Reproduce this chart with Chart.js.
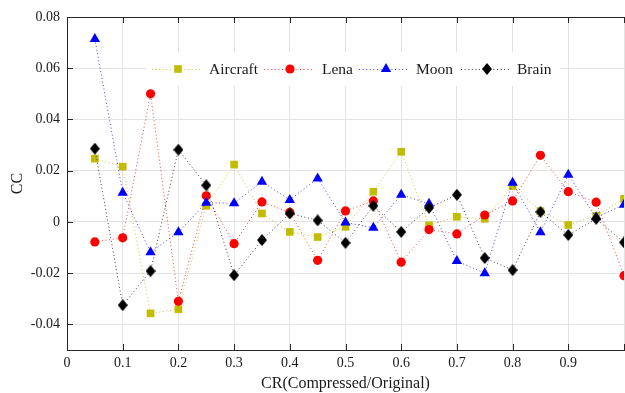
<!DOCTYPE html>
<html>
<head>
<meta charset="utf-8">
<script src="https://cdn.jsdelivr.net/npm/chart.js@4/dist/chart.umd.min.js"></script>
<style>
html,body{margin:0;padding:0;background:#fff;overflow:hidden;width:625px;height:393px;}
#wrap{width:630px;height:393px;}
</style>
</head>
<body>
<div id="wrap"><canvas id="c" width="630" height="393"></canvas></div>
<script>
// ---- data ----
const crValues = [0.05,0.1,0.15,0.2,0.25,0.3,0.35,0.4,0.45,0.5,0.55,0.6,0.65,0.7,0.75,0.8,0.85,0.9,0.95,1.0];
const aircraft = [0.0247,0.0216,-0.0357,-0.0341,0.0063,0.0224,0.0033,-0.0039,-0.0059,-0.0019,0.0118,0.0274,-0.0013,0.0020,0.0012,0.0140,0.0042,-0.0012,0.0024,0.0090];
const lena     = [-0.0078,-0.0062,0.0500,-0.0310,0.0102,-0.0085,0.0078,0.0037,-0.0150,0.0043,0.0082,-0.0157,-0.0030,-0.0047,0.0027,0.0082,0.0260,0.0118,0.0077,-0.0210];
const moon     = [0.0714,0.0114,-0.0118,-0.0040,0.0075,0.0073,0.0157,0.0086,0.0170,-0.0002,-0.0023,0.0106,0.0071,-0.0153,-0.0200,0.0153,-0.0040,0.0184,0.0018,0.0067];
const brain    = [0.0286,-0.0325,-0.0192,0.0282,0.0143,-0.0208,-0.0071,0.0033,0.0006,-0.0082,0.0063,-0.0039,0.0055,0.0106,-0.0141,-0.0188,0.0039,-0.0051,0.0012,-0.0080];
const seriesNames = ['Aircraft','Lena','Moon','Brain'];
const xTickValues = [0,0.1,0.2,0.3,0.4,0.5,0.6,0.7,0.8,0.9,1.0];
const xTickLabels = ['0','0.1','0.2','0.3','0.4','0.5','0.6','0.7','0.8','0.9',''];
const yTickValues = [-0.04,-0.02,0,0.02,0.04,0.06,0.08];
const yTickLabels = ['-0.04','-0.02','0','0.02','0.04','0.06','0.08'];

const FONT = "'Liberation Serif', 'Times New Roman', serif";
const AXIS = '#262626';
const DASH = [1,2.6];

// diamond marker image
function makeDiamond(w,h,color){
  const cv=document.createElement('canvas'); cv.width=w; cv.height=h;
  const g=cv.getContext('2d'); g.fillStyle=color; g.beginPath();
  g.moveTo(w/2,0); g.lineTo(w,h/2); g.lineTo(w/2,h); g.lineTo(0,h/2); g.closePath(); g.fill();
  return cv;
}
const diamond = makeDiamond(10,12,'#000');

function pts(arr){ return arr.map((v,i)=>({x:crValues[i],y:v})); }

const styles = [
  {color:'#c2bc00', line:'rgba(194,188,0,0.8)', style:'rect', radius:5.4},
  {color:'#ff0000', line:'rgba(255,0,0,0.75)', style:'circle', radius:4.6},
  {color:'#0000ff', line:'rgba(0,0,255,0.75)', style:'triangle', radius:6},
  {color:'#000000', line:'rgba(0,0,0,0.75)', style:diamond, radius:6}
];
const values=[aircraft,lena,moon,brain];

const datasets = values.map((arr,i)=>({
  label: seriesNames[i],
  data: pts(arr),
  borderColor: styles[i].line,
  backgroundColor: styles[i].color,
  borderWidth: 1,
  borderDash: DASH,
  pointStyle: styles[i].style,
  pointRadius: styles[i].radius,
  pointBorderWidth: 0,
  pointBackgroundColor: styles[i].color,
  pointBorderColor: styles[i].color,
  tension: 0,
  order: 3-i
}));

const frame = {
  id:'frame',
  afterDatasetsDraw(chart){
    const {ctx, chartArea:a, scales:{x,y}} = chart;
    ctx.save();
    ctx.strokeStyle=AXIS; ctx.lineWidth=1;
    ctx.beginPath();
    ctx.moveTo(a.left, a.top+0.5); ctx.lineTo(a.right, a.top+0.5);
    const L=6;
    xTickValues.forEach(v=>{
      const px=Math.round(x.getPixelForValue(v))+0.5;
      ctx.moveTo(px,a.top); ctx.lineTo(px,a.top+L);
      ctx.moveTo(px,a.bottom); ctx.lineTo(px,a.bottom-L);
    });
    yTickValues.forEach(v=>{
      const py=Math.round(y.getPixelForValue(v))+0.5;
      ctx.moveTo(a.left,py); ctx.lineTo(a.left+L,py);
    });
    ctx.stroke();
    ctx.restore();
  },
  afterDraw(chart){
    const ctx=chart.ctx;
    ctx.save();
    ctx.fillStyle='#fff';
    ctx.fillRect(147,52,413,34);
    const cy=69;
    const items=[{l:152,m:178,t:209},{l:264,m:290,t:322},{l:359,m:386,t:416},{l:461,m:487,t:517}];
    items.forEach((it,i)=>{
      const s=styles[i];
      ctx.strokeStyle=s.line; ctx.lineWidth=1; ctx.setLineDash(DASH);
      ctx.beginPath(); ctx.moveTo(it.l,cy+0.5); ctx.lineTo(it.l+49,cy+0.5); ctx.stroke();
      ctx.setLineDash([]);
      ctx.fillStyle=s.color;
      if(s.style==='rect'){ const h=s.radius*Math.SQRT1_2; ctx.fillRect(it.m-h,cy-h,2*h,2*h); }
      else if(s.style==='circle'){ ctx.beginPath(); ctx.arc(it.m,cy,s.radius,0,Math.PI*2); ctx.fill(); }
      else if(s.style==='triangle'){ const r=s.radius; ctx.beginPath();
        ctx.moveTo(it.m,cy-r); ctx.lineTo(it.m+r*Math.sin(Math.PI*2/3),cy-r*Math.cos(Math.PI*2/3));
        ctx.lineTo(it.m+r*Math.sin(Math.PI*4/3),cy-r*Math.cos(Math.PI*4/3)); ctx.closePath(); ctx.fill(); }
      else { ctx.drawImage(diamond,it.m-diamond.width/2,cy-diamond.height/2); }
      ctx.fillStyle='#1a1a1a'; ctx.font="15.5px "+FONT; ctx.textBaseline='middle'; ctx.textAlign='left';
      ctx.fillText(seriesNames[i],it.t,cy+1);
    });
    ctx.restore();
  }
};

new Chart(document.getElementById('c'),{
  type:'line',
  data:{datasets},
  options:{
    responsive:false,
    animation:false,
    events:[],
    layout:{padding:{left:0,right:3,top:17,bottom:0}},
    plugins:{legend:{display:false},tooltip:{enabled:false}},
    scales:{
      x:{
        type:'linear', min:0, max:1,
        afterBuildTicks(s){ s.ticks = xTickValues.map(v=>({value:v})); },
        afterFit(s){ s.height=43; },
        ticks:{ padding:5, color:'#1a1a1a', font:{family:FONT,size:14},
          callback:(v,i)=>xTickLabels[i], maxRotation:0, autoSkip:false },
        grid:{ color:'#e3e3e3', lineWidth:1, drawTicks:false },
        border:{ color:AXIS, width:1 },
        title:{ display:true, text:'CR(Compressed/Original)', color:'#1a1a1a',
          font:{family:FONT,size:16}, padding:{top:0,bottom:0} }
      },
      y:{
        type:'linear', min:-0.05, max:0.08,
        afterBuildTicks(s){ s.ticks = yTickValues.map(v=>({value:v})); },
        afterFit(s){ s.width=67; },
        ticks:{ padding:7, color:'#1a1a1a', font:{family:FONT,size:14},
          callback:(v,i)=>yTickLabels[i], autoSkip:false },
        grid:{ color:'#e3e3e3', lineWidth:1, drawTicks:false },
        border:{ color:AXIS, width:1 },
        title:{ display:true, text:'CC', color:'#1a1a1a',
          font:{family:FONT,size:16}, padding:{top:8,bottom:0} }
      }
    }
  },
  plugins:[frame]
});
</script>
</body>
</html>
